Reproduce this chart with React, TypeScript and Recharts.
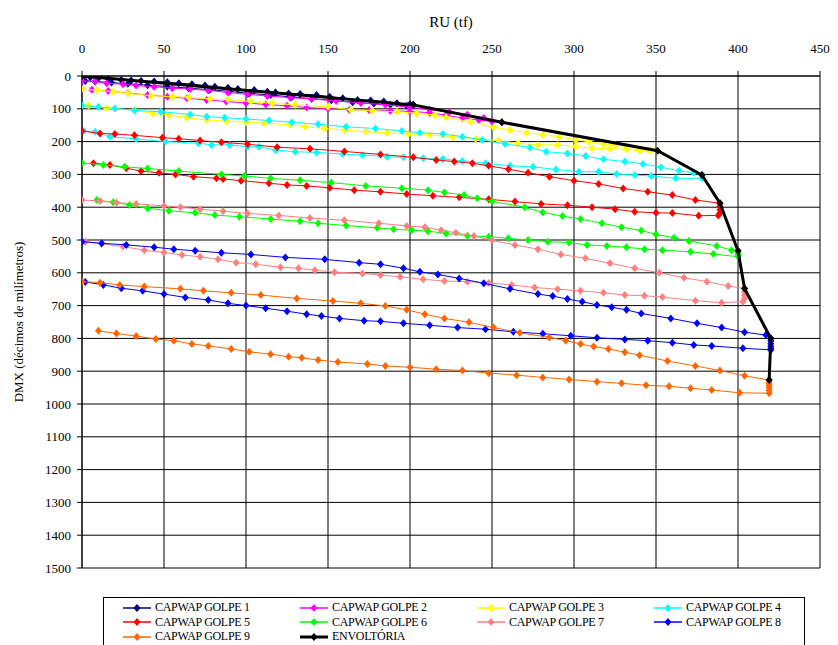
import React from 'react';
import { ComposedChart, Scatter, XAxis, YAxis, CartesianGrid, Legend, Label } from 'recharts';

type P = [number, number];

// RU (tf) x DMX (decimos de milimetros)
const golpe1: P[] = [
  [0, 0], [5, 4], [10, 7], [16, 9], [24, 12], [30, 14], [36, 15], [44, 17], [52, 19], [59, 22], [67, 25], [75, 29],
  [81, 33], [89, 36], [95, 40], [105, 43], [113, 48], [118, 50], [126, 53], [133, 55], [143, 58], [151, 63], [159, 68],
  [168, 73], [176, 75], [184, 78], [192, 83], [200, 86], [202, 88],
  [198, 91], [188, 88], [178, 84], [165, 80], [152, 74], [140, 69], [128, 64], [115, 58], [102, 53], [90, 47], [78, 42],
  [65, 37], [52, 32], [40, 28], [28, 24], [18, 20], [8, 17], [2, 15],
];
const golpe2: P[] = [
  [0, 15], [8, 17], [15, 22], [25, 25], [33, 29], [44, 33], [55, 37], [66, 40], [77, 44], [89, 50], [101, 56], [113, 61],
  [127, 66], [140, 70], [155, 76], [170, 82], [185, 88], [200, 95], [212, 103], [224, 110], [235, 118], [245, 128], [256, 141],
  [250, 139], [242, 134], [232, 128], [222, 120], [212, 112], [200, 108], [188, 106], [175, 104], [163, 103], [150, 100],
  [137, 96], [125, 91], [112, 87], [100, 82], [88, 78], [76, 73], [64, 68], [52, 63], [40, 58], [28, 52], [16, 46], [6, 42], [0, 40],
];
const golpe3: P[] = [
  [0, 40], [9, 43], [19, 48], [28, 53], [42, 60], [55, 63], [65, 65], [78, 70], [89, 72], [103, 78], [116, 83], [130, 88],
  [150, 94], [164, 103], [177, 106], [192, 109], [204, 114], [215, 119], [222, 126], [237, 140], [251, 156], [261, 165],
  [271, 173], [281, 179], [291, 185], [301, 195], [309, 200], [318, 207], [325, 210], [332, 215], [340, 223], [347, 226], [351, 228],
  [346, 228], [340, 228], [332, 223], [322, 222], [311, 220], [301, 215], [290, 210], [278, 210], [266, 205], [254, 197],
  [240, 191], [226, 186], [212, 180], [199, 177], [186, 173], [173, 170], [160, 165], [148, 160], [136, 155], [127, 149],
  [111, 144], [100, 141], [88, 138], [76, 134], [64, 127], [53, 119], [43, 114], [32, 104], [15, 98], [4, 90],
];
const golpe4: P[] = [
  [0, 90], [10, 94], [20, 99], [32, 105], [48, 109], [66, 117], [76, 124], [87, 127], [100, 131], [114, 136], [128, 141],
  [144, 147], [161, 155], [179, 160], [195, 168], [206, 173], [220, 177], [232, 185], [244, 195], [258, 207], [273, 218],
  [283, 231], [296, 236], [307, 244], [318, 254], [331, 261], [342, 268], [353, 278], [364, 289], [373, 295], [378, 302],
  [378, 312], [362, 312], [347, 305], [337, 302], [326, 299], [315, 292], [303, 292], [289, 285], [275, 277], [261, 274],
  [246, 266], [232, 259], [220, 253], [208, 251], [196, 248], [186, 246], [171, 241], [159, 238], [143, 233], [130, 231],
  [118, 226], [108, 216], [101, 216], [90, 210], [79, 210], [71, 205], [51, 200], [33, 192], [17, 185], [8, 170], [1, 168],
];
const golpe5: P[] = [
  [0, 168], [11, 175], [20, 177], [32, 181], [49, 188], [59, 191], [72, 197], [85, 202], [101, 208], [119, 217], [139, 222],
  [160, 230], [182, 239], [202, 248], [216, 256], [227, 261], [238, 266], [248, 274], [260, 284], [272, 295], [285, 307],
  [300, 319], [315, 329], [330, 343], [345, 353], [360, 363], [374, 378], [389, 388],
  [389, 398], [389, 408], [389, 418], [388, 425],
  [376, 426], [360, 418], [350, 417], [337, 414], [325, 406], [311, 400], [296, 394], [280, 390], [264, 383], [248, 376],
  [230, 370], [214, 365], [198, 360], [182, 353], [166, 348], [151, 341], [137, 335], [125, 332], [114, 327], [97, 319],
  [86, 314], [82, 312], [68, 307], [57, 300], [47, 295], [36, 290], [27, 281], [17, 271], [7, 266],
];
const golpe6: P[] = [
  [0, 265], [13, 271], [26, 277], [40, 282], [59, 290], [85, 300], [99, 305], [115, 312], [133, 318], [152, 325], [173, 335],
  [195, 342], [211, 348], [221, 355], [233, 363], [241, 373], [250, 382], [270, 400], [281, 416], [293, 427], [304, 436],
  [317, 449], [329, 461], [341, 471], [350, 483], [361, 493], [370, 503], [387, 518], [396, 531], [400, 533],
  [400, 540], [400, 546], [400, 551],
  [385, 543], [371, 536], [354, 531], [343, 528], [332, 522], [320, 518], [308, 515], [297, 508], [284, 505], [272, 500],
  [260, 495], [248, 490], [235, 487], [222, 480], [211, 473], [201, 470], [190, 467], [180, 463], [161, 456], [144, 449],
  [133, 443], [115, 436], [96, 429], [81, 424], [69, 417], [53, 411], [40, 403], [29, 393], [19, 385], [9, 378],
];
const golpe7: P[] = [
  [0, 378], [11, 381], [21, 386], [33, 390], [50, 396], [60, 400], [72, 406], [86, 412], [101, 419], [120, 425], [139, 433],
  [160, 440], [181, 449], [198, 457], [209, 461], [219, 470], [228, 478], [239, 488], [250, 501], [264, 515], [278, 528],
  [292, 544], [307, 556], [322, 571], [337, 586], [352, 600], [367, 615], [381, 627], [394, 640], [404, 648],
  [404, 658], [404, 668], [404, 678], [403, 688],
  [390, 691], [374, 685], [354, 674], [343, 670], [331, 668], [318, 661], [304, 655], [290, 650], [276, 645], [262, 637],
  [248, 631], [235, 627], [221, 625], [208, 620], [194, 612], [182, 607], [171, 602], [154, 598], [142, 592], [132, 586],
  [121, 583], [106, 574], [94, 569], [83, 559], [72, 551], [61, 546], [50, 538], [38, 531], [25, 520], [12, 512], [2, 505],
];
const golpe8: P[] = [
  [0, 505], [12, 510], [27, 515], [44, 522], [56, 528], [69, 533], [85, 539], [103, 544], [124, 553], [148, 559], [169, 569],
  [182, 574], [196, 586], [206, 597], [217, 605], [230, 617], [245, 632], [261, 649], [278, 665], [287, 671], [296, 680],
  [305, 688], [314, 698], [323, 705], [332, 713], [341, 724], [359, 739], [375, 754], [390, 767], [404, 781], [417, 790], [420, 800],
  [420, 808], [420, 816], [420, 824], [420, 830], [420, 835],
  [403, 830], [384, 823], [373, 820], [360, 813], [345, 807], [331, 803], [314, 798], [298, 792], [281, 786], [263, 780],
  [246, 772], [229, 767], [212, 760], [196, 754], [182, 748], [172, 746], [157, 739], [146, 732], [137, 726], [125, 717],
  [112, 708], [100, 700], [89, 693], [77, 683], [63, 675], [50, 665], [37, 655], [24, 647], [13, 637], [2, 628],
];
const golpe9: P[] = [
  [0, 627], [11, 630], [23, 637], [38, 642], [60, 649], [74, 655], [91, 661], [109, 668], [131, 678], [153, 686], [170, 693],
  [185, 701], [198, 713], [209, 726], [221, 739], [236, 751], [251, 767], [267, 783], [285, 797], [295, 807], [304, 817],
  [312, 825], [321, 832], [331, 842], [340, 851], [357, 869], [374, 884], [389, 898], [404, 914], [419, 927],
  [419, 935], [419, 943], [419, 950], [419, 958], [419, 967],
  [401, 966], [384, 957], [371, 952], [358, 946], [344, 943], [329, 937], [314, 932], [297, 925], [281, 919], [265, 912],
  [248, 906], [232, 898], [216, 894], [200, 888], [185, 884], [174, 878], [156, 872], [144, 866], [134, 859], [126, 856],
  [115, 848], [102, 841], [91, 832], [77, 823], [67, 817], [56, 807], [45, 802], [33, 793], [21, 785], [10, 777],
];
const envoltoria: P[] = [
  [0, 0], [202, 88], [256, 141], [351, 228], [378, 302], [389, 388], [400, 533], [404, 648], [420, 800], [419, 927],
];

const xTicks = [0, 50, 100, 150, 200, 250, 300, 350, 400, 450];
const yTicks = [0, 100, 200, 300, 400, 500, 600, 700, 800, 900, 1000, 1100, 1200, 1300, 1400, 1500];

const seriesNames = [
  'CAPWAP GOLPE 1', 'CAPWAP GOLPE 2', 'CAPWAP GOLPE 3', 'CAPWAP GOLPE 4', 'CAPWAP GOLPE 5',
  'CAPWAP GOLPE 6', 'CAPWAP GOLPE 7', 'CAPWAP GOLPE 8', 'CAPWAP GOLPE 9', 'ENVOLTÓRIA',
];
const seriesColors = ['#000080', '#FF00FF', '#FFFF00', '#00FFFF', '#FF0000', '#00FF00', '#FF8080', '#0000FF', '#FF6600', '#000000'];
const seriesPoints = [golpe1, golpe2, golpe3, golpe4, golpe5, golpe6, golpe7, golpe8, golpe9, envoltoria];

const series = seriesNames.map((name, i) => ({
  name,
  color: seriesColors[i],
  width: i === 9 ? 3 : 1,
  data: seriesPoints[i].map(([x, y]) => ({ x, y })),
}));

const FONT = 'Liberation Serif';

const diamondShape = (color: string) => (props: any) => {
  const { cx, cy } = props;
  if (cx == null || cy == null) return <g />;
  return <path d={`M${cx},${cy - 4}L${cx + 3.5},${cy}L${cx},${cy + 4}L${cx - 3.5},${cy}Z`} fill={color} stroke="none" />;
};

const XTick = (props: any) => {
  const { x, y, payload } = props;
  return (
    <text x={x} y={y} textAnchor="middle" fill="#000" fontSize={13} fontFamily={FONT}>
      {payload.value}
    </text>
  );
};

const YTick = (props: any) => {
  const { x, y, payload } = props;
  return (
    <text x={x} y={y + 4.5} textAnchor="end" fill="#000" fontSize={13} fontFamily={FONT}>
      {payload.value}
    </text>
  );
};

const LegendBox = () => (
  <div
    style={{
      border: '1px solid #000',
      width: 702,
      height: 60,
      boxSizing: 'border-box',
      position: 'relative',
      fontFamily: FONT,
      fontSize: 12,
      color: '#000',
      background: '#fff',
    }}
  >
    {series.map((s, i) => {
      const col = i % 4;
      const row = Math.floor(i / 4);
      return (
        <div
          key={s.name}
          style={{
            position: 'absolute',
            left: 19 + col * 177,
            top: 2 + row * 14.5,
            height: 15,
            display: 'flex',
            alignItems: 'center',
            whiteSpace: 'nowrap',
          }}
        >
          <svg width={28} height={10} style={{ marginRight: 4 }}>
            <line x1={0} y1={5} x2={28} y2={5} stroke={s.color} strokeWidth={s.width === 3 ? 3 : 1.5} />
            <path d="M14,1L17.5,5L14,9L10.5,5Z" fill={s.color} />
          </svg>
          <span style={{ letterSpacing: -0.3, lineHeight: '15px', fontFamily: FONT }}>{s.name}</span>
        </div>
      );
    })}
  </div>
);

export default function App() {
  return (
    <div style={{ position: 'absolute', left: 0, top: 0, width: 838, height: 645, background: '#fff', overflow: 'hidden', fontFamily: FONT }}>
      <ComposedChart width={838} height={645} margin={{ top: 30, right: 18, bottom: 77, left: 0 }}>
        <CartesianGrid stroke="#000" strokeWidth={1} />
        <XAxis
          type="number"
          dataKey="x"
          orientation="top"
          domain={[0, 450]}
          ticks={xTicks}
          allowDataOverflow
          height={46}
          tickSize={5}
          tickMargin={18}
          axisLine={{ stroke: '#000' }}
          tickLine={{ stroke: '#000' }}
          tick={<XTick />}
        >
          <Label value="RU (tf)" position="top" offset={3} fill="#000" fontSize={15} fontFamily={FONT} />
        </XAxis>
        <YAxis
          type="number"
          dataKey="y"
          reversed
          domain={[0, 1500]}
          ticks={yTicks}
          allowDataOverflow
          width={82}
          tickSize={5}
          tickMargin={6}
          axisLine={{ stroke: '#000' }}
          tickLine={{ stroke: '#000' }}
          tick={<YTick />}
        >
          <Label
            content={() => (
              <text
                x={18}
                y={322}
                transform="rotate(-90, 18, 322)"
                textAnchor="middle"
                dominantBaseline="central"
                fill="#000"
                fontSize={13}
                fontFamily={FONT}
              >
                DMX (décimos de milímetros)
              </text>
            )}
          />
        </YAxis>
        {series.map((s) => (
          <Scatter
            key={s.name}
            name={s.name}
            data={s.data}
            fill={s.color}
            line={{ stroke: s.color, strokeWidth: s.width }}
            lineType="joint"
            shape={diamondShape(s.color)}
            isAnimationActive={false}
          />
        ))}
        <Legend
          layout="horizontal"
          verticalAlign="middle"
          align="center"
          wrapperStyle={{ position: 'absolute', top: 597, left: 103, width: 702, height: 60 }}
          content={() => <LegendBox />}
        />
      </ComposedChart>
    </div>
  );
}
